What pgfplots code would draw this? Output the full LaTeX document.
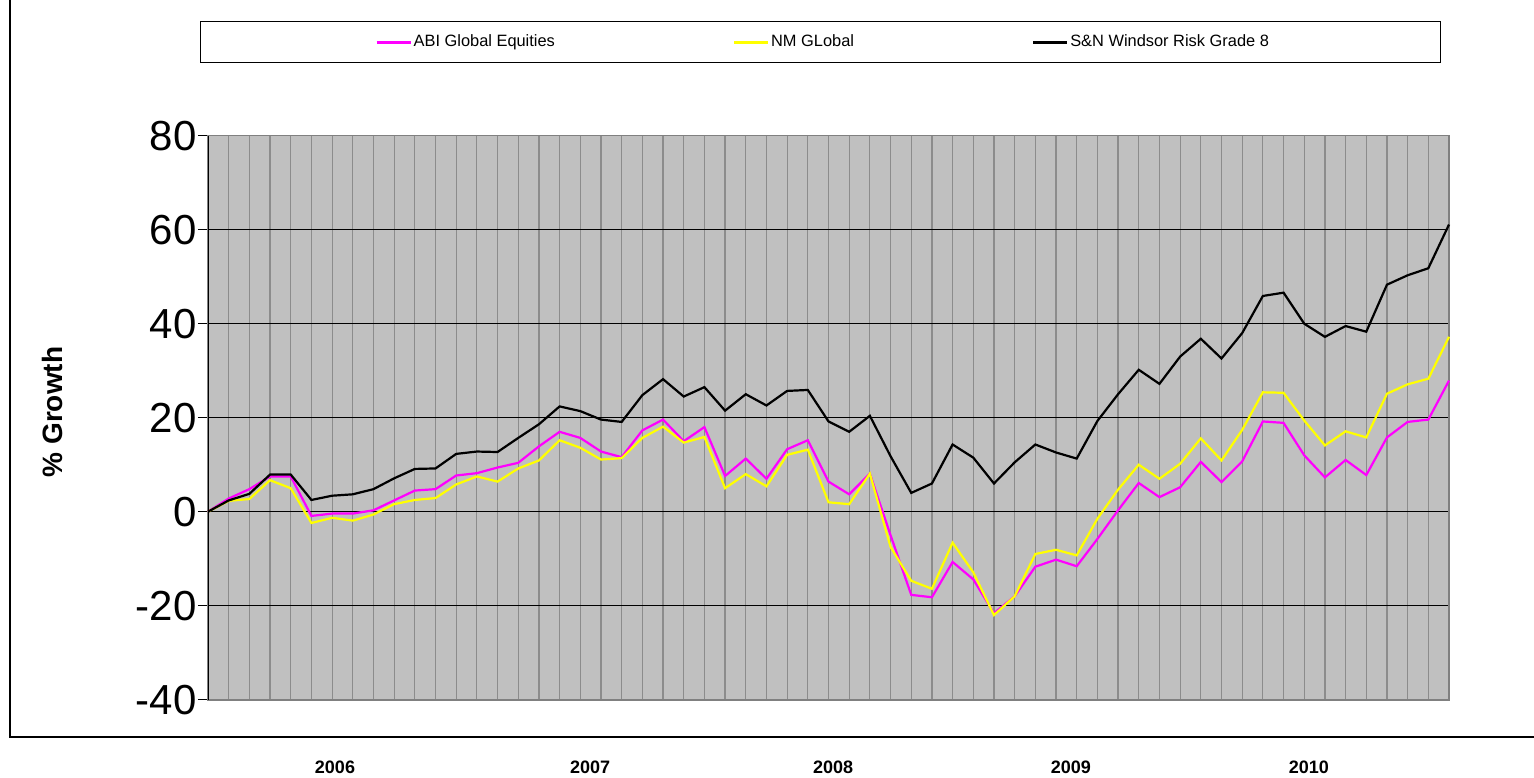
\documentclass[border=0pt]{standalone}
\usepackage{pgfplots}
\usepackage{pgfplotstable}
\pgfplotsset{compat=1.18}
\usepackage{fontspec}
\setmainfont{Liberation Sans}
\definecolor{plotbg}{HTML}{C0C0C0}
\definecolor{vgrid}{HTML}{8C8C8C}
\definecolor{bordergray}{HTML}{808080}
\definecolor{abi}{HTML}{FF00FF}
\definecolor{nm}{HTML}{FFFF00}

\pgfplotstableread{
i abi nm sn
0 0 0 0
1 2.8 2.3 2.4
2 4.8 2.7 3.8
3 7.5 6.7 7.9
4 7.5 5.0 7.9
5 -0.9 -2.4 2.5
6 -0.4 -1.3 3.4
7 -0.4 -1.9 3.7
8 0.3 -0.6 4.8
9 2.4 1.6 7.1
10 4.5 2.5 9.1
11 4.8 2.9 9.2
12 7.7 5.8 12.3
13 8.2 7.5 12.8
14 9.4 6.4 12.7
15 10.4 9.2 15.7
16 13.9 10.9 18.6
17 17.0 15.2 22.4
18 15.7 13.6 21.4
19 12.8 11.1 19.6
20 11.6 11.4 19.1
21 17.3 15.7 24.8
22 19.6 18.1 28.2
23 15.0 14.7 24.5
24 18.0 15.9 26.5
25 7.6 5.0 21.5
26 11.3 8.0 25.0
27 7.0 5.4 22.6
28 13.3 12.1 25.7
29 15.2 13.2 25.9
30 6.4 2.0 19.2
31 3.7 1.6 17.0
32 8.1 8.1 20.4
33 -5.0 -7.5 11.8
34 -17.7 -14.7 4.0
35 -18.2 -16.4 6.0
36 -10.7 -6.6 14.3
37 -14.4 -12.9 11.5
38 -21.6 -22.0 6.0
39 -18.0 -18.0 10.5
40 -11.7 -9.0 14.3
41 -10.2 -8.1 12.6
42 -11.6 -9.3 11.3
43 -5.8 -1.5 19.3
44 0.3 4.7 25.0
45 6.1 10.0 30.2
46 3.1 7.0 27.2
47 5.2 10.2 33.0
48 10.6 15.6 36.8
49 6.3 10.9 32.6
50 10.7 17.4 38.0
51 19.2 25.4 45.9
52 18.9 25.3 46.6
53 12.0 19.4 40.0
54 7.3 14.1 37.2
55 11.0 17.1 39.5
56 7.8 15.8 38.3
57 15.8 25.1 48.3
58 19.1 27.1 50.3
59 19.6 28.3 51.8
60 27.9 37.2 61.1
}\datatable

\begin{document}
\begin{tikzpicture}
\useasboundingbox (0,0) rectangle (767pt,388.5pt);
\draw[black, line width=0.6pt] (5pt,20pt) rectangle (780pt,395pt);
\draw[black, line width=0.5pt] (100pt,357pt) rectangle (720pt,377.5pt);
\begin{axis}[
  at={(104pt,38.65pt)}, anchor=south west,
  width=620.5pt, height=282pt, scale only axis,
  xmin=0, xmax=60, ymin=-40, ymax=80,
  xtick={0,...,60}, xticklabels={},
  xmajorgrids, ymajorgrids,
  major x grid style={vgrid, line width=0.6pt},
  major y grid style={black, line width=0.5pt},
  ytick={-40,-20,0,20,40,60,80},
  yticklabels={-40,-20,0,20,40,60,80},
  yticklabel style={font=\fontsize{21}{25}\selectfont, inner xsep=0.5pt},
  tick align=outside,
  ytick pos=left, xtick pos=bottom,
  xtick style={draw=none},
  ytick style={black, line width=0.5pt},
  major tick length=5pt,
  axis line style={bordergray, line width=0.8pt},
  axis background/.style={fill=plotbg},
  extra x ticks={6.14,18.47,30.22,41.72,53.23},
  extra x tick labels={2006,2007,2008,2009,2010},
  extra x tick style={grid=none, major tick length=0pt,
     xticklabel style={font=\bfseries\fontsize{9}{11}\selectfont, anchor=center, yshift=-33.65pt}},
  ylabel={\% Growth},
  ylabel style={font=\bfseries\fontsize{14}{17}\selectfont, at={(axis description cs:-0.1257,0.51)}, anchor=center},
  legend columns=3,
  legend style={at={(axis description cs:0.1346,1.1652)}, anchor=west, draw=none, fill=none,
     inner sep=0pt, font=\fontsize{8.2}{10}\selectfont,
     nodes={inner xsep=1pt},
     /tikz/every even column/.append style={column sep=88pt}},
  legend image code/.code={\draw[#1] (0pt,0pt) -- (17pt,0pt);},
  every axis plot/.append style={line width=1.1pt},
  clip=false,
  extra description/.code={\draw[black, line width=0.5pt] (axis description cs:0,0) -- (axis description cs:0,1);},
]
\addplot[abi] table[x=i, y=abi] {\datatable};
\addlegendentry{ABI Global Equities}
\addplot[nm] table[x=i, y=nm] {\datatable};
\addlegendentry{NM GLobal}
\addplot[black] table[x=i, y=sn] {\datatable};
\addlegendentry{S\&N Windsor Risk Grade 8}
\end{axis}
\end{tikzpicture}
\end{document}
